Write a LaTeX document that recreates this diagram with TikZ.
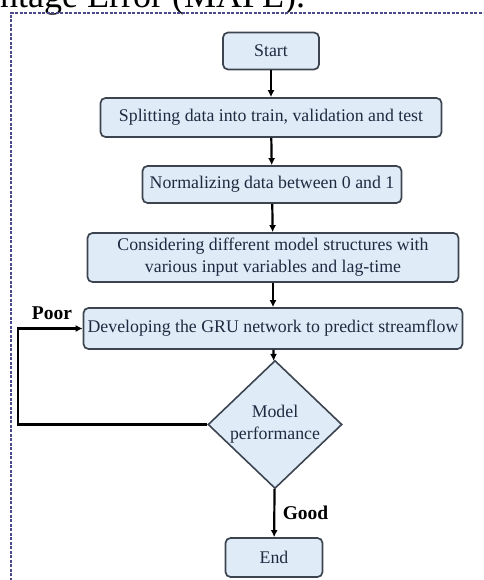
\documentclass[tikz,border=0pt]{standalone}
\usepackage{fontspec}
\setmainfont{Liberation Serif}
\usetikzlibrary{shapes.geometric,arrows.meta}

\definecolor{boxfill}{HTML}{DFEBF7}
\definecolor{boxline}{HTML}{3C4450}
\definecolor{txtcol}{HTML}{1F2A40}
\definecolor{framecol}{HTML}{4A4A8C}

\tikzset{
    procbox/.style={draw=boxline,line width=1.7pt,fill=boxfill,rounded corners=5pt,
        text=txtcol,align=center,inner sep=0pt,font=\fontsize{17.8}{22}\selectfont},
    decision/.style={diamond,draw=boxline,line width=1.6pt,fill=boxfill,inner sep=0pt,
        text=txtcol,align=center,font=\fontsize{17.8}{22}\selectfont},
    flow/.style={line width=2.2pt,-{Latex[length=7pt,width=7pt]}},
    lbl/.style={font=\fontsize{19.5}{22}\selectfont\bfseries}
}

\begin{document}
\begin{tikzpicture}[x=1pt,y=-1pt]
        
        \useasboundingbox (0,0) rectangle (483,580);
        \clip (0,0) rectangle (483,580);
        
        % cut-off line of the page above
        \node[anchor=base west,inner sep=0pt,font=\fontsize{36}{40}\selectfont] (caption) at (0,8) {ntage Error (MAPE).};
        \draw[framecol,line width=1.6pt,dash pattern=on 3pt off 1.5pt] (11,585) -- (11,13) -- (490,13);
        
        \node[procbox,minimum width=96pt,minimum height=37pt] (start) at (271,51) {Start};
        \node[procbox,minimum width=341pt,minimum height=39pt] (split) at (271,117.5) {Splitting data into train, validation and test};
        \node[procbox,minimum width=259pt,minimum height=37pt] (norm) at (272,184.5) {Normalizing data between 0 and 1};
        \node[procbox,minimum width=371pt,minimum height=49pt] (cons) at (273,257.5) {Considering different model structures with\\various input variables and lag-time};
        \node[procbox,minimum width=379pt,minimum height=41pt] (dev) at (273,328.5) {Developing the GRU network to predict streamflow};
        \node[decision,minimum width=134pt,minimum height=95pt] (perf) at (275,424.5) {Model\\performance};
        \node[procbox,minimum width=97pt,minimum height=39pt] (end) at (274,557.5) {End};
        
        \coordinate (loop) at (18,424.5);
        
        \draw[flow] (start) -- (split);
        \draw[flow] (split) -- (norm);
        \draw[flow] (norm) -- (cons);
        \draw[flow] (cons) -- (dev);
        \draw[flow] (dev) -- (perf);
        \draw[flow] (perf) -- (end) node[midway,right=4pt,lbl] {Good};
        \draw[flow] (perf.west) -- (loop) |- (dev.west);
        
        \node[lbl] (poor) at (52,313) {Poor};
        
        \end{tikzpicture}
\end{document}
